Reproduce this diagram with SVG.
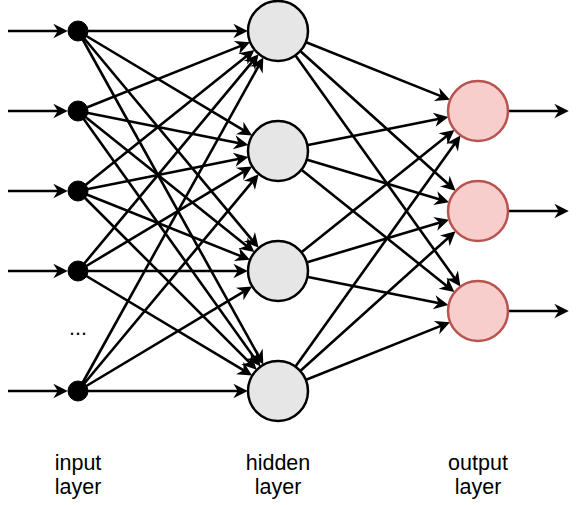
<svg xmlns="http://www.w3.org/2000/svg" width="578" height="505" viewBox="0 0 578 505">
<defs>
<marker id="arr" markerUnits="userSpaceOnUse" markerWidth="20" markerHeight="20" refX="0" refY="0" viewBox="-8 -8 18 16" orient="auto" overflow="visible">
<path d="M7,0 L-6,-6.5 L-2,0 L-6,6.5 Z" fill="#000"/>
</marker>
</defs>
<style>
.e{stroke:#000;stroke-width:2.6;fill:none;marker-end:url(#arr)}
.in{fill:#000;stroke:#000;stroke-width:1}
.hid{fill:#e6e6e6;stroke:#000;stroke-width:2.5}
.out{fill:#f8cecc;stroke:#b85450;stroke-width:2.5}
.t{font-family:"Liberation Sans",Arial,sans-serif;font-size:21.5px;fill:#000;text-anchor:middle}
</style>
<rect width="578" height="505" fill="#fff"/>
<g id="connectors">
<line class="e" x1="8" y1="31" x2="60" y2="31"/>
<line class="e" x1="8" y1="111" x2="60" y2="111"/>
<line class="e" x1="8" y1="191" x2="60" y2="191"/>
<line class="e" x1="8" y1="271" x2="60" y2="271"/>
<line class="e" x1="8" y1="391" x2="60" y2="391"/>
<line class="e" x1="78" y1="31" x2="240" y2="31"/>
<line class="e" x1="78" y1="111" x2="242.72" y2="45.11"/>
<line class="e" x1="78" y1="191" x2="248.33" y2="54.74"/>
<line class="e" x1="78" y1="271" x2="253.67" y2="60.19"/>
<line class="e" x1="78" y1="391" x2="259.55" y2="64.22"/>
<line class="e" x1="78" y1="31" x2="245.41" y2="131.45"/>
<line class="e" x1="78" y1="111" x2="240.74" y2="143.55"/>
<line class="e" x1="78" y1="191" x2="240.74" y2="158.45"/>
<line class="e" x1="78" y1="271" x2="245.41" y2="170.55"/>
<line class="e" x1="78" y1="391" x2="253.67" y2="180.19"/>
<line class="e" x1="78" y1="31" x2="253.67" y2="241.81"/>
<line class="e" x1="78" y1="111" x2="248.33" y2="247.26"/>
<line class="e" x1="78" y1="191" x2="242.72" y2="256.89"/>
<line class="e" x1="78" y1="271" x2="240" y2="271"/>
<line class="e" x1="78" y1="391" x2="245.41" y2="290.55"/>
<line class="e" x1="78" y1="31" x2="259.55" y2="357.78"/>
<line class="e" x1="78" y1="111" x2="255.91" y2="360.08"/>
<line class="e" x1="78" y1="191" x2="251.13" y2="364.13"/>
<line class="e" x1="78" y1="271" x2="245.41" y2="371.45"/>
<line class="e" x1="78" y1="391" x2="240" y2="391"/>
<line class="e" x1="278" y1="31" x2="442.72" y2="96.89"/>
<line class="e" x1="278" y1="151" x2="440.74" y2="118.45"/>
<line class="e" x1="278" y1="271" x2="448.33" y2="134.74"/>
<line class="e" x1="278" y1="391" x2="455.91" y2="141.92"/>
<line class="e" x1="278" y1="31" x2="449.75" y2="185.58"/>
<line class="e" x1="278" y1="151" x2="441.6" y2="200.08"/>
<line class="e" x1="278" y1="271" x2="441.6" y2="221.92"/>
<line class="e" x1="278" y1="391" x2="449.75" y2="236.42"/>
<line class="e" x1="278" y1="31" x2="455.91" y2="280.08"/>
<line class="e" x1="278" y1="151" x2="448.33" y2="287.26"/>
<line class="e" x1="278" y1="271" x2="440.74" y2="303.55"/>
<line class="e" x1="278" y1="391" x2="442.72" y2="325.11"/>
<line class="e" x1="508" y1="111" x2="561" y2="111"/>
<line class="e" x1="508" y1="211" x2="561" y2="211"/>
<line class="e" x1="508" y1="311" x2="561" y2="311"/>
</g>
<g id="input1"><circle class="in" cx="78" cy="31" r="10"/></g>
<g id="input2"><circle class="in" cx="78" cy="111" r="10"/></g>
<g id="input3"><circle class="in" cx="78" cy="191" r="10"/></g>
<g id="input4"><circle class="in" cx="78" cy="271" r="10"/></g>
<g id="input5"><circle class="in" cx="78" cy="391" r="10"/></g>
<g id="hidden1"><circle class="hid" cx="278" cy="31" r="30"/></g>
<g id="hidden2"><circle class="hid" cx="278" cy="151" r="30"/></g>
<g id="hidden3"><circle class="hid" cx="278" cy="271" r="30"/></g>
<g id="hidden4"><circle class="hid" cx="278" cy="391" r="30"/></g>
<g id="output1"><circle class="out" cx="478" cy="111" r="30"/></g>
<g id="output2"><circle class="out" cx="478" cy="211" r="30"/></g>
<g id="output3"><circle class="out" cx="478" cy="311" r="30"/></g>
<g id="ellipsis"><text class="t" x="78" y="335">...</text></g>
<g id="label-input"><text class="t" x="78" y="470">input</text><text class="t" x="78" y="494">layer</text></g>
<g id="label-hidden"><text class="t" x="278" y="470">hidden</text><text class="t" x="278" y="494">layer</text></g>
<g id="label-output"><text class="t" x="478" y="470">output</text><text class="t" x="478" y="494">layer</text></g>
</svg>
